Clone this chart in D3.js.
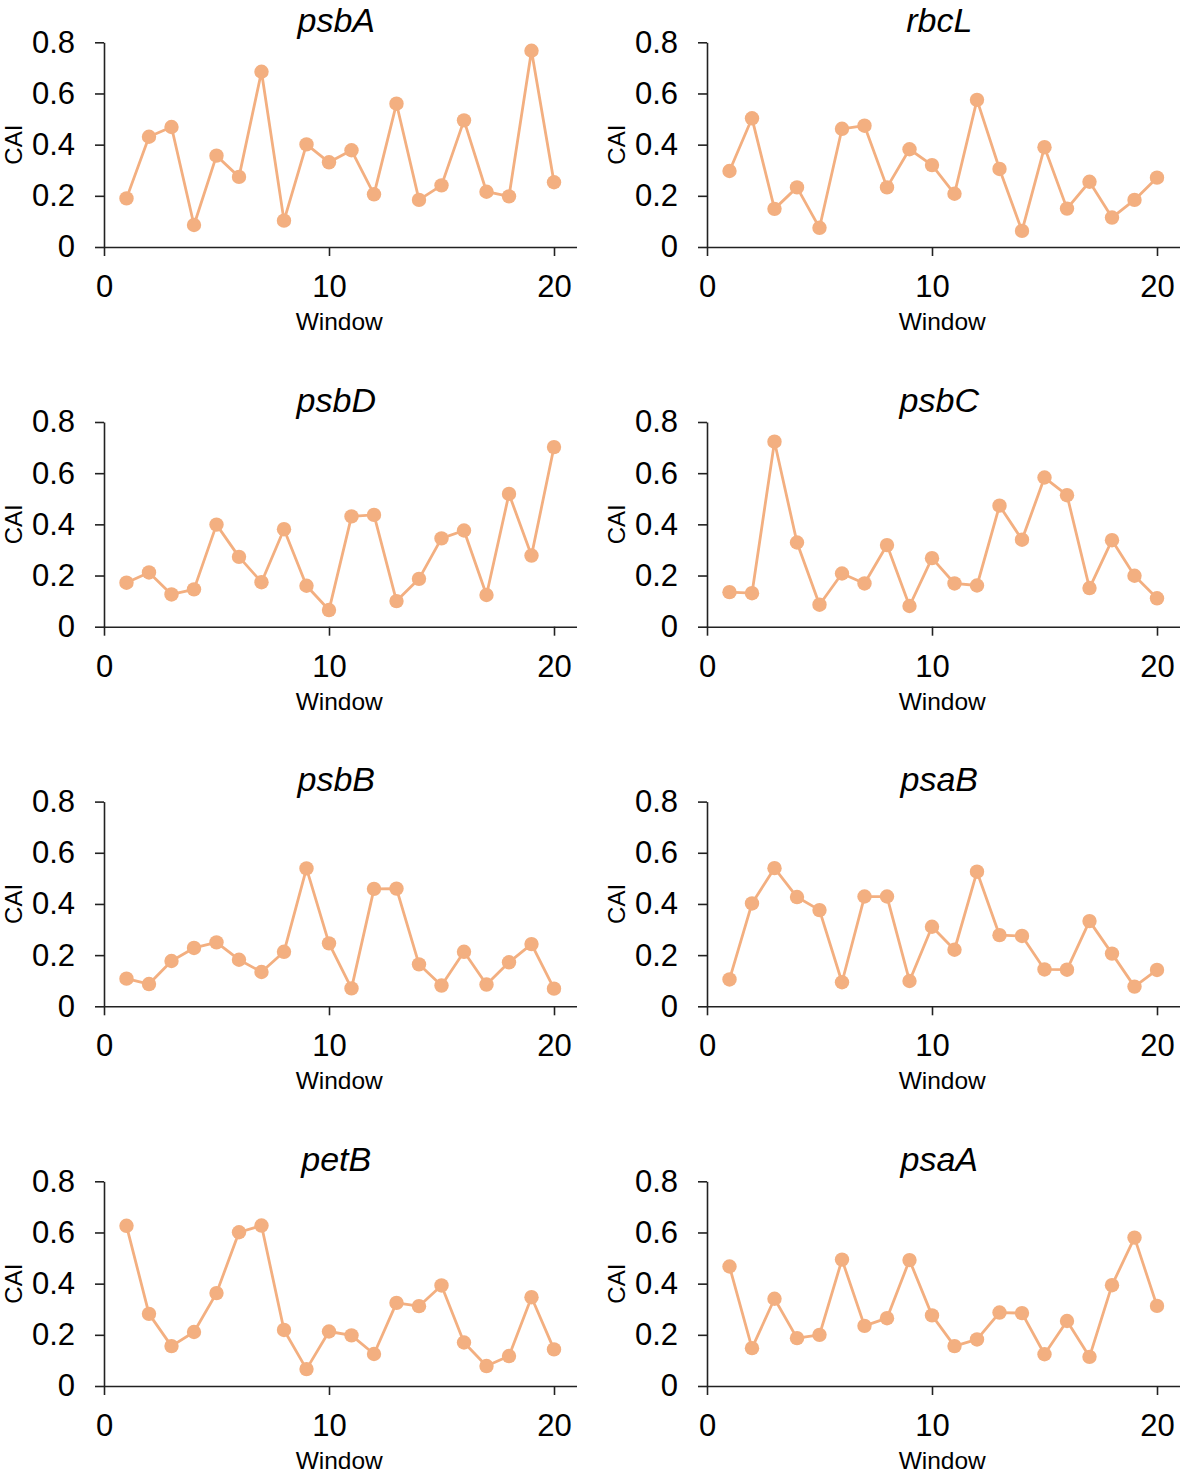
<!DOCTYPE html>
<html>
<head>
<meta charset="utf-8">
<script src="https://cdn.jsdelivr.net/npm/d3@7"></script>
<style>
  html, body { margin: 0; padding: 0; background: #fff; }
  svg { display: block; font-family: "Liberation Sans", Arial, Helvetica, sans-serif; }
</style>
</head>
<body>
<svg id="chart" width="1180" height="1474"></svg>
<script>
// ---- Data ----
const genes = ["psbA", "rbcL", "psbD", "psbC", "psbB", "psaB", "petB", "psaA"];
const windows = d3.range(1, 21);
const psbA = [0.19, 0.431, 0.469, 0.086, 0.357, 0.274, 0.685, 0.103, 0.401, 0.331, 0.378, 0.206, 0.56, 0.184, 0.241, 0.495, 0.216, 0.198, 0.767, 0.253];
const rbcL = [0.297, 0.503, 0.149, 0.233, 0.075, 0.462, 0.474, 0.233, 0.382, 0.32, 0.208, 0.575, 0.305, 0.063, 0.39, 0.15, 0.255, 0.115, 0.184, 0.271];
const psbD = [0.172, 0.212, 0.126, 0.146, 0.399, 0.273, 0.174, 0.381, 0.16, 0.065, 0.431, 0.437, 0.1, 0.187, 0.345, 0.376, 0.124, 0.519, 0.278, 0.702];
const psbC = [0.135, 0.131, 0.723, 0.329, 0.086, 0.208, 0.169, 0.319, 0.081, 0.268, 0.169, 0.161, 0.473, 0.34, 0.583, 0.514, 0.151, 0.338, 0.199, 0.111];
const psbB = [0.108, 0.087, 0.177, 0.228, 0.25, 0.182, 0.134, 0.213, 0.539, 0.246, 0.07, 0.459, 0.46, 0.164, 0.081, 0.213, 0.085, 0.172, 0.243, 0.069];
const psaB = [0.105, 0.402, 0.54, 0.427, 0.376, 0.094, 0.429, 0.429, 0.099, 0.311, 0.221, 0.526, 0.278, 0.275, 0.144, 0.143, 0.333, 0.206, 0.077, 0.142];
const petB = [0.626, 0.282, 0.156, 0.211, 0.363, 0.601, 0.627, 0.219, 0.066, 0.213, 0.198, 0.125, 0.325, 0.312, 0.393, 0.17, 0.078, 0.117, 0.347, 0.143];
const psaA = [0.467, 0.148, 0.341, 0.187, 0.2, 0.494, 0.235, 0.265, 0.492, 0.276, 0.156, 0.182, 0.287, 0.285, 0.124, 0.254, 0.114, 0.394, 0.58, 0.313];
const seriesValues = [psbA, rbcL, psbD, psbC, psbB, psaB, petB, psaA];
const yTicks = [0, 0.2, 0.4, 0.6, 0.8];
const xTicks = [0, 10, 20];
const xLabel = "Window";
const yLabel = "CAI";

// ---- Layout ----
const colX0 = [104, 707];
const plotW = 472.5;          // domain 0..21
const rowY0 = [247, 626.7, 1006.3, 1386];
const plotH = 204.7;          // domain 0..0.8
const color = "#F3AF80";
const axisColor = "#222";

const svg = d3.select("#chart");

genes.forEach((g, i) => {
  const col = i % 2, row = Math.floor(i / 2);
  const x0 = colX0[col], y0 = rowY0[row];
  const x = d3.scaleLinear().domain([0, 21]).range([x0, x0 + plotW]);
  const y = d3.scaleLinear().domain([0, 0.8]).range([y0, y0 - plotH]);
  const gp = svg.append("g");

  // y axis
  const yAxis = gp.append("g")
    .attr("transform", `translate(${x0},0)`)
    .call(d3.axisLeft(y).tickValues(yTicks).tickSize(9).tickSizeOuter(0).tickPadding(20)
      .tickFormat(d => d === 0 ? "0" : d.toFixed(1)));
  // x axis
  const xAxis = gp.append("g")
    .attr("transform", `translate(0,${y0})`)
    .call(d3.axisBottom(x).tickValues(xTicks).tickSize(9).tickSizeOuter(0).tickPadding(19)
      .tickFormat(d3.format("d")));

  [yAxis, xAxis].forEach(a => {
    a.select(".domain").attr("stroke", axisColor).attr("stroke-width", 1.6);
    a.selectAll(".tick line").attr("stroke", axisColor).attr("stroke-width", 1.6);
    a.selectAll(".tick text").attr("fill", "#000")
      .style("font-size", "31px")
      .style("font-family", '"Liberation Sans", Arial, sans-serif');
  });

  // line
  const vals = seriesValues[i];
  const pts = windows.map((w, k) => [w, vals[k]]);
  gp.append("path")
    .datum(pts)
    .attr("fill", "none")
    .attr("stroke", color)
    .attr("stroke-width", 2.8)
    .attr("stroke-linejoin", "round")
    .attr("d", d3.line().x(d => x(d[0])).y(d => y(d[1])));

  gp.selectAll("circle.pt")
    .data(pts)
    .join("circle")
    .attr("class", "pt")
    .attr("cx", d => x(d[0]))
    .attr("cy", d => y(d[1]))
    .attr("r", 7.2)
    .attr("fill", color);

  // title
  gp.append("text")
    .attr("x", x0 + plotW / 2 - 4)
    .attr("y", y0 - 215)
    .attr("text-anchor", "middle")
    .style("font-size", "34px")
    .style("font-style", "italic")
    .attr("fill", "#000")
    .text(g);

  // x label
  gp.append("text")
    .attr("x", x0 + plotW / 2 - 1)
    .attr("y", y0 + 83)
    .attr("text-anchor", "middle")
    .style("font-size", "24.5px")
    .attr("fill", "#000")
    .text(xLabel);

  // y label
  gp.append("text")
    .attr("transform", `translate(${x0 - 82},${y0 - plotH / 2}) rotate(-90)`)
    .attr("text-anchor", "middle")
    .style("font-size", "24px")
    .attr("fill", "#000")
    .text(yLabel);
});
</script>
</body>
</html>
